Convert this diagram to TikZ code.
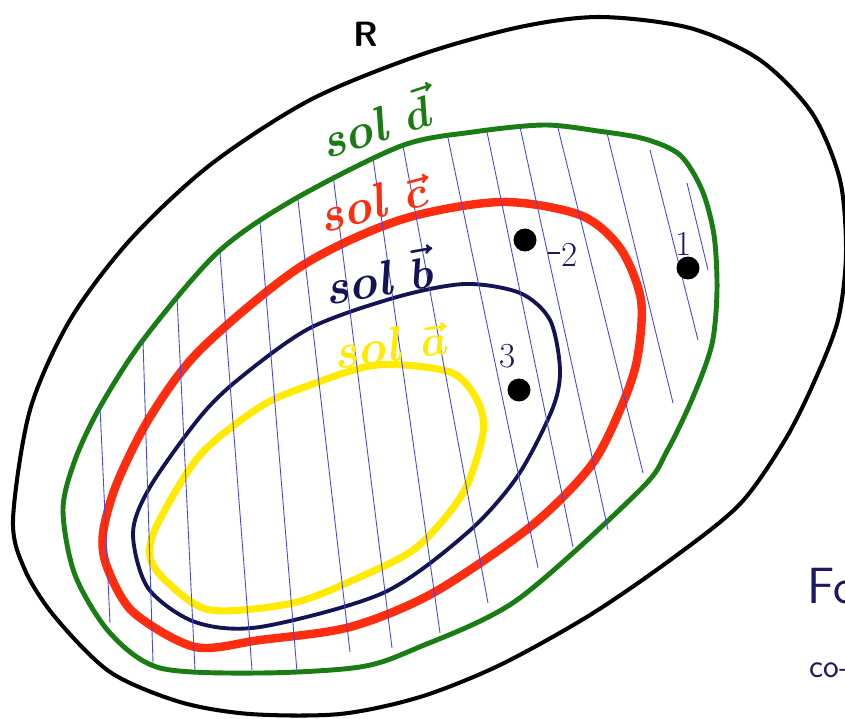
\documentclass[tikz,border=0pt]{standalone}
\usepackage{amsmath,amssymb}
\usepackage{tikz}
\definecolor{solgreen}{RGB}{25,125,20}
\definecolor{solred}{RGB}{255,45,15}
\definecolor{solblue}{RGB}{20,20,85}
\definecolor{solyellow}{RGB}{255,235,0}
\definecolor{hatchblue}{RGB}{70,70,230}
\definecolor{inkblue}{RGB}{30,25,100}

\begin{document}
\begin{tikzpicture}[x=0.02cm,y=-0.02cm,
  sollabel/.style={font=\fontsize{28}{28}\selectfont\bfseries\itshape\boldmath,inner sep=0pt},
  numlabel/.style={text=inkblue,font=\fontsize{20}{20}\selectfont,inner sep=0pt},
  dotpt/.style={circle,fill=black,inner sep=0pt,minimum size=0.46cm},
  hatch/.style={hatchblue,line width=0.5pt}]
\fill[white] (0,0) rectangle (845,719);
\useasboundingbox (0,0) rectangle (845,719);

\draw[black,line width=2.3pt] plot[smooth cycle] coordinates {(13,520) (30,410) (70,320) (130,240) (210,165) (310,100) (420,55) (520,27) (600,17) (690,28) (760,60) (812,113) (840,180) (846,254) (838,320) (815,380) (785,440) (740,504) (673,558) (590,615) (500,665) (420,697) (340,714) (250,714) (180,702) (110,672) (55,617) (25,570)};
\draw[solgreen,line width=2.8pt] plot[smooth cycle] coordinates {(63,510) (75,460) (100,407) (143,340) (217,253) (293,200) (401,146) (473,132) (544,125) (598,131) (645,139) (680,155) (702,190) (714,235) (717,290) (712,344) (693,397) (667,451) (640,490) (517,600) (417,648) (360,667) (260,673) (160,668) (110,633) (75,575)};
\draw[solred,line width=4.8pt] plot[smooth cycle] coordinates {(103,533) (117,483) (150,417) (200,350) (300,267) (400,220) (500,202) (580,215) (620,248) (641,300) (637,360) (620,410) (590,467) (530,527) (433,593) (350,627) (260,640) (195,647) (133,612) (107,567)};
\draw[solblue,line width=2.2pt] plot[smooth cycle] coordinates {(133,533) (150,487) (200,417) (240,378) (310,328) (397,297) (465,284) (520,293) (550,320) (560,370) (552,410) (517,477) (467,533) (383,593) (260,627) (195,622) (148,588)};
\draw[solyellow,line width=4pt] plot[smooth cycle] coordinates {(150,557) (157,525) (200,455) (260,407) (310,385) (377,365) (450,372) (477,400) (483,433) (463,493) (417,547) (360,577) (293,603) (210,610) (167,582)};

\foreach \xa/\ya/\xb/\yb in {100/407/110/623, 143/340/153/663, 177/297/195/670, 220/253/252/670,
  260/222/297/672, 298/200/350/652, 333/175/392/648, 373/158/440/633, 403/146/488/603,
  448/138/538/568, 487/132/573/547, 520/127/608/530, 557/124/643/473, 607/133/673/403,
  650/150/698/340, 687/183/708/270}
  \draw[hatch] (\xa,\ya) -- (\xb,\yb);

\node[font=\fontsize{20}{20}\selectfont\sffamily\bfseries] (lblR) at (366,34) {R};
\node[sollabel,text=solgreen,rotate=18] (lbld) at (374,122) {sol $\vec{d}$};
\node[sollabel,text=solred,rotate=15] (lblc) at (372,203) {sol $\vec{c}$};
\node[sollabel,text=solblue,rotate=10] (lblb) at (378,275) {sol $\vec{b}$};
\node[sollabel,text=solyellow,rotate=8] (lbla) at (390,345) {sol $\vec{a}$};

\node[dotpt] (d1) at (688,268) {};
\node[dotpt] (d2) at (525,240) {};
\node[dotpt] (d3) at (519,390) {};
\node[numlabel] (n1) at (684,244) {1};
\node[numlabel] (n2) at (570,255) {2};
\node[numlabel] (n3) at (508,356) {3};
\draw[inkblue,line width=1.2pt] (n2.west) ++(-2,-2) -- ++(-12,0);

\node[text=inkblue,font=\fontsize{29}{29}\selectfont\sffamily,anchor=base west,inner sep=0pt] (fo) at (807,603) {Fo};
\node[text=inkblue,font=\fontsize{19}{19}\selectfont\sffamily,anchor=base west,inner sep=0pt] (co) at (809,677) {co-};
\end{tikzpicture}
\end{document}
